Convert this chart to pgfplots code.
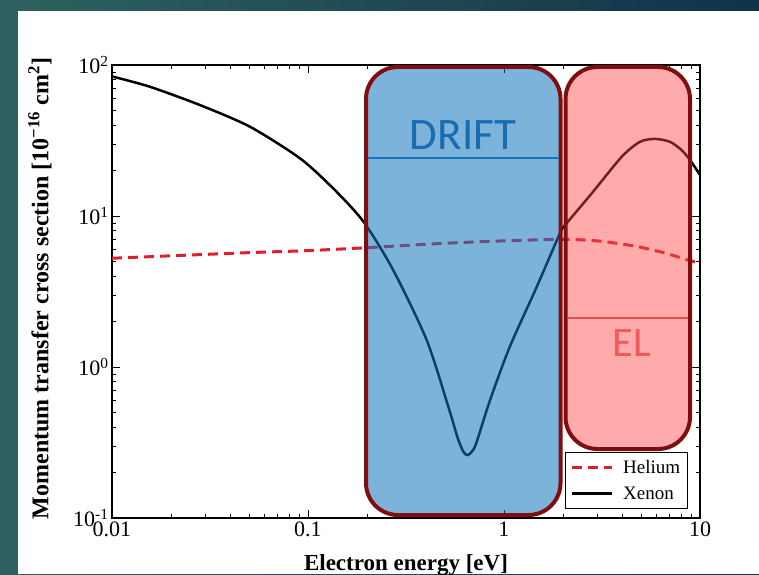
\documentclass[border=0pt]{standalone}
\usepackage{pgfplots}
\pgfplotsset{compat=1.18}
\usepackage{fontspec}
\setmainfont{Liberation Serif}
\newfontfamily\calib{Carlito}
\definecolor{tealL}{RGB}{46,98,95}
\definecolor{navyR}{RGB}{18,50,74}
\definecolor{boxborder}{RGB}{128,14,14}
\definecolor{driftfill}{RGB}{18,118,191}
\definecolor{elfill}{RGB}{255,70,70}
\definecolor{driftline}{RGB}{26,115,186}
\definecolor{drifttext}{RGB}{24,108,178}
\definecolor{elline}{RGB}{232,80,80}
\definecolor{eltext}{RGB}{240,90,90}
\definecolor{heliumred}{RGB}{222,30,40}
\begin{document}
\begin{tikzpicture}[x=1pt,y=1pt]
\useasboundingbox (0,0) rectangle (759,574);
\clip (0,0) rectangle (759,574);
\shade[left color=tealL, right color=navyR] (0,0) rectangle (759,574);
\fill[white] (18,0) rectangle (759,563);
\begin{axis}[
  at={(112pt,56pt)}, anchor=south west,
  scale only axis, width=588pt, height=453pt,
  xmode=log, ymode=log,
  xmin=0.01, xmax=10, ymin=0.1, ymax=100,
  xtick={0.01,0.1,1,10}, xticklabels={0.01,0.1,1,10},
  ytick={0.1,1,10,100},
  yticklabels={10\textsuperscript{-1},10\textsuperscript{0},10\textsuperscript{1},10\textsuperscript{2}},
  tick label style={font=\fontsize{22}{26}\selectfont},
  axis line style={line width=1.2pt},
  major tick length=8pt, minor tick length=4pt,
  every tick/.style={black, line width=0.8pt},
  legend style={at={(0.77,0.02)}, anchor=south west, draw=black, line width=0.8pt,
    font=\fontsize{19}{22}\selectfont, row sep=8pt, column sep=8pt,
    inner xsep=5pt, inner ysep=6pt},
  legend cell align=left,
  legend image code/.code={\draw[#1] (0pt,0pt) -- (40pt,0pt);},
]
\addplot[heliumred, line width=3pt, dash pattern=on 10pt off 6pt, smooth, tension=0.5] coordinates {
 (0.01,5.25) (0.02,5.45) (0.05,5.72) (0.1,5.9) (0.2,6.17) (0.5,6.6) (1,6.85)
 (1.86,7.0) (2.5,6.95) (3.27,6.76) (4.8,6.27) (6.6,5.69) (8.7,5.11) (10,4.86)
};
\addlegendentry{Helium}
\addplot[black, line width=2.5pt, smooth, tension=0.45] coordinates {
 (0.01,84) (0.0156,71.8) (0.0281,54.3) (0.0506,39) (0.091,24.1) (0.134,15.3)
 (0.192,9.17) (0.272,4.39) (0.403,1.51) (0.52,0.546) (0.58,0.34)
 (0.62,0.275) (0.65,0.261) (0.68,0.272) (0.72,0.31) (0.849,0.604)
 (1.07,1.36) (1.47,3.40) (1.93,7.69) (2.05,8.7) (2.80,14.1)
 (3.99,24.7) (4.94,31) (5.89,32.4) (7.03,31) (8.06,27.3) (8.89,23.5) (10,18.7)
};
\addlegendentry{Xenon}
\end{axis}
\draw[boxborder, line width=4pt, fill=driftfill, fill opacity=0.55, rounded corners=32pt] (366,59) rectangle (560.5,507);
\draw[driftline, line width=2pt] (368,416) -- (558.5,416);
\node[drifttext, font=\calib\fontsize{45}{50}\selectfont] at (463,439) {DRIFT};
\draw[boxborder, line width=4pt, fill=elfill, fill opacity=0.45, rounded corners=32pt] (565.5,125) rectangle (690,507);
\draw[elline, line width=2pt] (567.5,256) -- (688,256);
\node[eltext, font=\calib\fontsize{42}{46}\selectfont] at (632,231) {EL};
\node[rotate=90, font=\bfseries\fontsize{24}{28}\selectfont] at (40,285.5) {Momentum transfer cross section [10\textsuperscript{−16} cm\textsuperscript{2}]};
\node[anchor=base, font=\bfseries\fontsize{23}{27}\selectfont] at (406,4) {Electron energy [eV]};
\end{tikzpicture}
\end{document}
